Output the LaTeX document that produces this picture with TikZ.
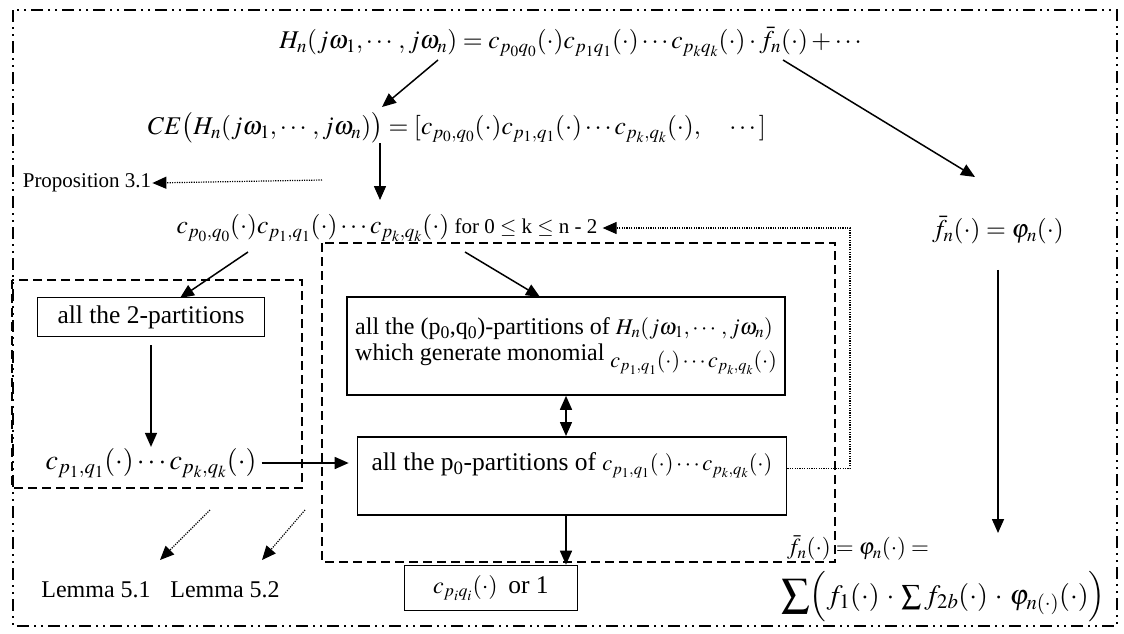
\documentclass[tikz,border=0pt]{standalone}
\usepackage{amsmath}
\usepackage{mathptmx}
\usepackage{fontspec}
\setmainfont{Liberation Serif}
\usetikzlibrary{arrows.meta, positioning, calc}
\newcommand{\mth}[2][25.5]{{\fontsize{#1}{30}\selectfont$#2$}}
\tikzset{
  >={Triangle[length=14pt,width=12pt]},
  % boxes and groups
  box/.style={draw,line width=1.6pt,inner sep=0pt,align=left},
  group/.style={line width=1.6pt,dash pattern=on 9pt off 5pt},
  frame/.style={line width=1.8pt,dash pattern=on 12pt off 5pt on 2pt off 5pt on 2pt off 5pt},
  % connectors
  flow/.style={->,line width=1.5pt},
  refer/.style={->,line width=1.2pt,dash pattern=on 1.2pt off 1.2pt},
  txt/.style={inner sep=1pt,font=\fontsize{21}{25}\selectfont},
  big/.style={inner sep=1pt,font=\fontsize{25.5}{30}\selectfont},
  mid/.style={inner sep=1pt,font=\fontsize{24}{29}\selectfont}
}

\begin{document}
\begin{tikzpicture}[x=1pt,y=-1pt]
  \useasboundingbox (0,0) rectangle (1124,633);
  % outer frame and the two groups
  \draw[frame] (13,10) rectangle (1117,626);
  \draw[group] (12,280) rectangle (302,488);
  \draw[group] (322,243) rectangle (835,562);

  % formulas
  \node[txt] (hn) at (572,42)
    {\mth{H_n(j\omega_1,\cdots,j\omega_n)=c_{p_0q_0}(\cdot)c_{p_1q_1}(\cdot)\cdots c_{p_kq_k}(\cdot)\cdot\bar{f}_n(\cdot)+\cdots}};
  \node[txt] (ce) at (457,128)
    {\mth{CE\bigl(H_n(j\omega_1,\cdots,j\omega_n)\bigr)=[c_{p_0,q_0}(\cdot)c_{p_1,q_1}(\cdot)\cdots c_{p_k,q_k}(\cdot),\quad\cdots]}};
  \node[txt] (prop) at (87,183) {Proposition 3.1};
  \node[txt] (cpq) at (387,228)
    {\mth{c_{p_0,q_0}(\cdot)c_{p_1,q_1}(\cdot)\cdots c_{p_k,q_k}(\cdot)} for 0 $\le$ k $\le$ n - 2};
  \node[txt] (fbar) at (998,230) {\mth{\bar{f}_n(\cdot)=\varphi_n(\cdot)}};

  % boxes
  \node[box,big,minimum width=227pt,minimum height=39pt,align=center] (two) at (151,317)
    {all the 2-partitions};
  \node[txt] (cl) at (151,463) {\mth[28]{c_{p_1,q_1}(\cdot)\cdots c_{p_k,q_k}(\cdot)}};
  \node[box,mid,minimum width=438pt,minimum height=98pt] (mono) at (566,346)
    {all the (p\textsubscript{0},q\textsubscript{0})-partitions of \mth[22.5]{H_n(j\omega_1,\cdots,j\omega_n)}\\[-3pt]
     which generate monomial \raisebox{-7pt}{\mth[22]{c_{p_1,q_1}(\cdot)\cdots c_{p_k,q_k}(\cdot)}}};
  \node[box,big,minimum width=429pt,text depth=44pt,anchor=north,inner ysep=0pt] (pz) at (572,436)
    {\rule{0pt}{34pt}all the p\textsubscript{0}-partitions of \mth[22.5]{c_{p_1,q_1}(\cdot)\cdots c_{p_k,q_k}(\cdot)}};
  \node[box,big,minimum width=173pt,minimum height=45pt,align=center] (bot) at (491,588)
    {\mth[24]{c_{p_iq_i}(\cdot)}\, or 1};

  % references
  \node[mid] (lemA) at (96,590) {Lemma 5.1};
  \node[mid] (lemB) at (225,590) {Lemma 5.2};
  \node[txt,anchor=west] (sumA) at (786,548)
    {\mth[23]{\bar{f}_n(\cdot)=\varphi_n(\cdot)=}};
  \node[txt,anchor=west] (sumB) at (780,597)
    {\mth[28]{\displaystyle\sum\Bigl(f_1(\cdot)\,\cdot\,\textstyle\sum f_{2b}(\cdot)\,\cdot\,\varphi_{n(\cdot)}(\cdot)\Bigr)}};

  % free ends
  \coordinate (hnEq) at (438,60);
  \coordinate (hnF) at (783,60);
  \coordinate (ceIn) at (382,107);
  \coordinate (ceOut) at (380,143);
  \coordinate (cpqIn) at (380,200);
  \coordinate (fbarIn) at (975,177);
  \coordinate (propFrom) at (322,180);
  \coordinate (cpqL) at (248,252);
  \coordinate (cpqR) at (465,252);
  \coordinate (twoIn) at (180,298);
  \coordinate (monoIn) at (540,297);
  \coordinate (sumIn) at (998,533);
  \coordinate (retX) at (850,0);
  \coordinate (lemAFrom) at (210,510);
  \coordinate (lemAIn) at (160,560);
  \coordinate (lemBFrom) at (305,510);
  \coordinate (lemBIn) at (262,560);

  % solid arrows
  \draw[flow] (hnEq) -- (ceIn);
  \draw[flow] (hnF) -- (fbarIn);
  \draw[flow] (ceOut) -- (cpqIn);
  \draw[flow] (cpqL) -- (twoIn);
  \draw[flow] (cpqR) -- (monoIn);
  \draw[flow,shorten <=8pt] (two.south) -- (cl.north);
  \draw[flow,shorten <=4pt,shorten >=8pt] (cl.east) -- (cl.east -| pz.west);
  \draw[flow,<->] (mono.south) -- (mono.south |- pz.north);
  \draw[flow] (pz.south -| mono.south) -- (bot.north -| mono.south);
  \draw[flow,shorten <=25pt] (fbar.south) -- (sumIn);

  % dotted arrows
  \draw[refer] (propFrom) -- (prop.east);
  \draw[refer] (pz.mid east) -- (pz.mid east -| retX) |- ([xshift=4pt]cpq.east);
  \draw[refer] (lemAFrom) -- (lemAIn);
  \draw[refer] (lemBFrom) -- (lemBIn);
\end{tikzpicture}
\end{document}
